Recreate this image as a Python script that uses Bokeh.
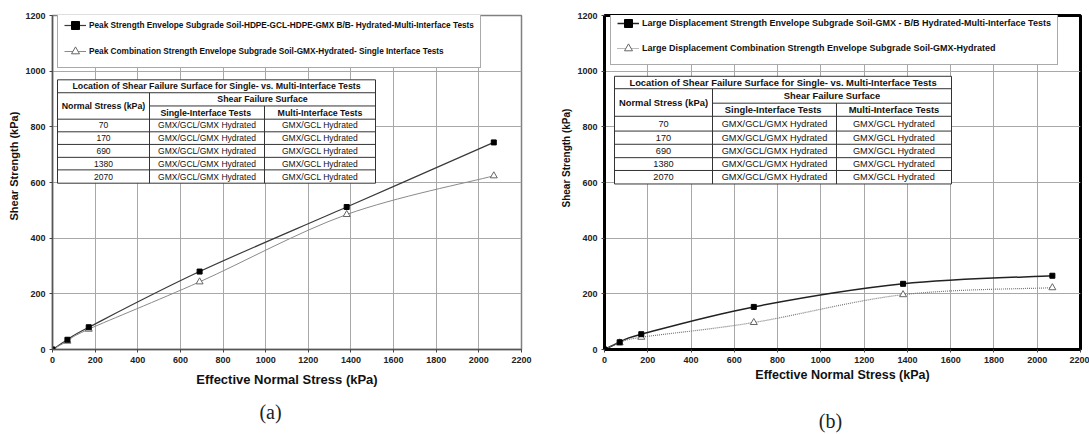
import numpy as np
from bokeh.plotting import figure
from bokeh.models import (Range1d, ColumnDataSource, Legend, LegendItem, Title,
                          FixedTicker)
from bokeh.layouts import row, column
from bokeh.embed import file_html
from bokeh.resources import INLINE
from bokeh.core.properties import value

# ---------------- data ----------------
stress = [0, 70, 170, 690, 1380, 2070]
a_multi = [0, 35, 80, 280, 512, 744]
a_single = [0, 30, 73, 243, 485, 624]
b_multi = [0, 26, 55, 153, 236, 265]
b_single = [0, 24, 44, 97, 197, 222]

legend_a = ["Peak Strength Envelope Subgrade Soil-HDPE-GCL-HDPE-GMX B/B- Hydrated-Multi-Interface Tests",
            "Peak Combination Strength Envelope Subgrade Soil-GMX-Hydrated- Single Interface Tests"]
legend_b = ["Large Displacement Strength Envelope Subgrade Soil-GMX - B/B Hydrated-Multi-Interface Tests",
            "Large Displacement Combination Strength Envelope Subgrade Soil-GMX-Hydrated"]

table_title = "Location of Shear Failure Surface for Single- vs. Multi-Interface Tests"
table_head = ["Normal Stress (kPa)", "Shear Failure Surface", "Single-Interface  Tests", "Multi-Interface Tests"]
table_stress = ["70", "170", "690", "1380", "2070"]
table_single = ["GMX/GCL/GMX Hydrated", "GMX/GCL/GMX Hydrated", "GMX/GCL/GMX Hydrated",
                "GMX/GCL/GMX Hydrated", "GMX/GCL/GMX Hydrated"]
table_multi = ["GMX/GCL Hydrated", "GMX/GCL Hydrated", "GMX/GCL Hydrated",
               "GMX/GCL Hydrated", "GMX/GCL Hydrated"]

x_ticks = [0, 200, 400, 600, 800, 1000, 1200, 1400, 1600, 1800, 2000, 2200]
y_ticks = [0, 200, 400, 600, 800, 1000, 1200]

x_title = "Effective Normal Stress (kPa)"
y_title = "Shear Strength (kPa)"
captions = ["(a)", "(b)"]

FONT = "Liberation Sans"
XMAX, YMAX = 2200, 1200
PAGE_W, PAGE_H = 1089, 434
CAP_H = 35                      # height of the caption strip under the charts
PLOT_H = PAGE_H - CAP_H


def smooth(xs, ys):
    """Catmull-Rom segments expressed as cubic Bezier control points."""
    n = len(xs)
    out = {k: [] for k in ("x0", "y0", "x1", "y1", "cx0", "cy0", "cx1", "cy1")}
    for i in range(n - 1):
        i0 = max(i - 1, 0)
        i3 = min(i + 2, n - 1)
        out["x0"].append(xs[i]); out["y0"].append(ys[i])
        out["x1"].append(xs[i + 1]); out["y1"].append(ys[i + 1])
        out["cx0"].append(xs[i] + (xs[i + 1] - xs[i0]) / 6.0)
        out["cy0"].append(ys[i] + (ys[i + 1] - ys[i0]) / 6.0)
        out["cx1"].append(xs[i + 1] - (xs[i3] - xs[i]) / 6.0)
        out["cy1"].append(ys[i + 1] - (ys[i3] - ys[i]) / 6.0)
    return ColumnDataSource(out)


def make_panel(cfg):
    W = cfg["width"]; H = PLOT_H
    off = cfg["offset"]
    L, R, T, B = cfg["frame"]
    p = figure(width=W, height=H, output_backend="svg", toolbar_location=None,
               x_range=Range1d(0, XMAX), y_range=Range1d(0, YMAX),
               min_border_left=L - off, min_border_right=off + W - R,
               min_border_top=T, min_border_bottom=H - B)
    p.background_fill_color = "white"
    p.border_fill_color = "white"
    p.outline_line_color = cfg["outline_color"]
    p.outline_line_width = cfg["outline_width"]

    for ax in (p.xaxis, p.yaxis):
        ax.major_label_text_font = FONT
        ax.major_label_text_font_style = "bold"
        ax.major_label_text_font_size = "9px"
        ax.major_label_text_color = "#222222"
        ax.major_tick_out = 3
        ax.major_tick_in = 0
        ax.minor_tick_out = 0
        ax.minor_tick_in = 0
        ax.axis_line_color = cfg["axis_color"]
        ax.axis_line_width = cfg["outline_width"]
        ax.major_tick_line_color = "#444444"
        ax.major_label_standoff = 4
    p.xaxis.ticker = FixedTicker(ticks=x_ticks)
    p.yaxis.ticker = FixedTicker(ticks=y_ticks)
    p.xgrid.ticker = FixedTicker(ticks=x_ticks)
    p.ygrid.ticker = FixedTicker(ticks=y_ticks)
    p.grid.grid_line_color = "#a8a8a8"
    p.grid.grid_line_width = 1

    p.xaxis.axis_label = x_title
    p.xaxis.axis_label_text_font = FONT
    p.xaxis.axis_label_text_font_style = "bold"
    p.xaxis.axis_label_text_font_size = cfg["xtitle_size"]
    p.xaxis.axis_label_text_color = "#111111"
    p.xaxis.axis_label_standoff = cfg["xtitle_standoff"]

    yt = Title(text=y_title, align="left", text_font=FONT, text_font_style="bold",
               text_font_size=cfg["ytitle_size"], text_color="#111111",
               offset=cfg["ytitle_offset"], standoff=6)
    p.add_layout(yt, "left")

    # pixel -> data conversion for the inset table
    def dx(px):
        return (px - L) / (R - L) * XMAX

    def dy(py):
        return (B - py) / (B - T) * YMAX

    cols = cfg["table_cols"]; rows = cfg["table_rows"]
    p.quad(left=[dx(cols[0])], right=[dx(cols[3])], top=[dy(rows[0])], bottom=[dy(rows[8])],
           fill_color="white", line_color=None)
    seg = {"x0": [], "y0": [], "x1": [], "y1": []}

    def add(xa, ya, xb, yb):
        seg["x0"].append(dx(xa)); seg["y0"].append(dy(ya))
        seg["x1"].append(dx(xb)); seg["y1"].append(dy(yb))
    for j in (0, 1, 3, 4, 5, 6, 7, 8):
        add(cols[0], rows[j], cols[3], rows[j])
    add(cols[1], rows[2], cols[3], rows[2])
    add(cols[0], rows[0], cols[0], rows[8])
    add(cols[3], rows[0], cols[3], rows[8])
    add(cols[1], rows[1], cols[1], rows[8])
    add(cols[2], rows[2], cols[2], rows[8])
    p.segment(x0="x0", y0="y0", x1="x1", y1="y1", source=ColumnDataSource(seg),
              line_color="#333333", line_width=1)

    def cx(a, b):
        return dx((cols[a] + cols[b]) / 2.0)

    def cy(a, b):
        return dy((rows[a] + rows[b]) / 2.0)

    hx = [cx(0, 3), cx(0, 1), cx(1, 3), cx(1, 2), cx(2, 3)]
    hy = [cy(0, 1), cy(1, 3), cy(1, 2), cy(2, 3), cy(2, 3)]
    p.text(x=hx, y=hy, text=[table_title] + table_head, text_font=value(FONT),
           text_font_style="bold", text_font_size=cfg["th_size"], text_color="#111111",
           text_align="center", text_baseline="middle")
    bx, by, bt = [], [], []
    for k in range(5):
        for (a, b, txt) in ((0, 1, table_stress[k]), (1, 2, table_single[k]), (2, 3, table_multi[k])):
            bx.append(cx(a, b)); by.append(cy(3 + k, 4 + k)); bt.append(txt)
    p.text(x=bx, y=by, text=bt, text_font=value(FONT), text_font_size=cfg["td_size"],
           text_color="#111111", text_align="center", text_baseline="middle")

    # data series
    s1 = cfg["multi"]; s2 = cfg["single"]
    r1l = p.bezier(x0="x0", y0="y0", x1="x1", y1="y1", cx0="cx0", cy0="cy0", cx1="cx1", cy1="cy1",
                   source=smooth(stress, s1), line_color=cfg["c1"], line_width=cfg["w1"])
    r2l = p.bezier(x0="x0", y0="y0", x1="x1", y1="y1", cx0="cx0", cy0="cy0", cx1="cx1", cy1="cy1",
                   source=smooth(stress, s2), line_color=cfg["c2"], line_width=cfg["w2"],
                   line_dash=cfg["dash2"])
    r2m = p.scatter(stress, s2, marker="triangle", size=7, fill_color="white",
                    line_color="#666666", line_width=1)
    r1m = p.scatter(stress, s1, marker="square", size=5, fill_color="black",
                    line_color="black")

    leg = Legend(items=[LegendItem(label=cfg["legend"][0], renderers=[r1l, r1m]),
                        LegendItem(label=cfg["legend"][1], renderers=[r2l, r2m])],
                 location=cfg["legend_loc"], orientation="vertical",
                 label_text_font=FONT, label_text_font_style="bold",
                 label_text_font_size=cfg["leg_size"], label_text_color="#111111",
                 glyph_width=22, glyph_height=20, label_height=20, label_standoff=3,
                 spacing=cfg["leg_spacing"], padding=6, margin=0,
                 border_line_color="#555555", border_line_width=1.5,
                 background_fill_color="white", background_fill_alpha=1.0)
    p.add_layout(leg, "center")
    return p


cfg_a = dict(width=545, offset=0, frame=(52, 521, 13, 349),
             outline_color="#808080", outline_width=1.5, axis_color="#555555",
             xtitle_size="13px", xtitle_standoff=6, ytitle_size="11px", ytitle_offset=129,
             table_cols=[57, 149, 264, 375],
             table_rows=[77.7, 90.7, 104, 117.3, 130, 142.7, 155.7, 168.3, 181.7],
             th_size="8.8px", td_size="8.5px",
             multi=a_multi, single=a_single, c1="#3a3a3a", w1=1.2, c2="#8a8a8a", w2=1,
             dash2="solid", legend=legend_a, legend_loc=(5, 281), leg_size="6.2pt",
             leg_spacing=6)
cfg_b = dict(width=544, offset=545, frame=(604, 1080, 15, 354),
             outline_color="#000000", outline_width=3, axis_color="#000000",
             xtitle_size="12.5px", xtitle_standoff=2, ytitle_size="10px", ytitle_offset=142,
             table_cols=[614, 712, 836, 951],
             table_rows=[76.7, 89.3, 104, 117.3, 132.3, 145.7, 159.3, 172.3, 186],
             th_size="9.4px", td_size="9.2px",
             multi=b_multi, single=b_single, c1="#222222", w1=1.5, c2="#777777", w2=1.2,
             dash2="1 1", legend=legend_b, legend_loc=(6, 284), leg_size="9px",
             leg_spacing=5)

pa = make_panel(cfg_a)
pb = make_panel(cfg_b)

# caption strip: a bare figure whose ranges equal page pixels
cap = figure(width=PAGE_W, height=CAP_H, output_backend="svg", toolbar_location=None,
             x_range=Range1d(0, PAGE_W), y_range=Range1d(PAGE_H, PLOT_H),
             min_border=0)
cap.axis.visible = False
cap.grid.visible = False
cap.outline_line_color = None
cap.background_fill_color = "white"
cap.border_fill_color = "white"
cap.text(x=[270, 830], y=[411, 420], text=captions, text_font=value("Liberation Serif"),
         text_font_size="20px", text_color="#222222", text_align="center",
         text_baseline="middle")

layout = column(row(pa, pb), cap)
open("out.html", "w").write(file_html(layout, INLINE))
